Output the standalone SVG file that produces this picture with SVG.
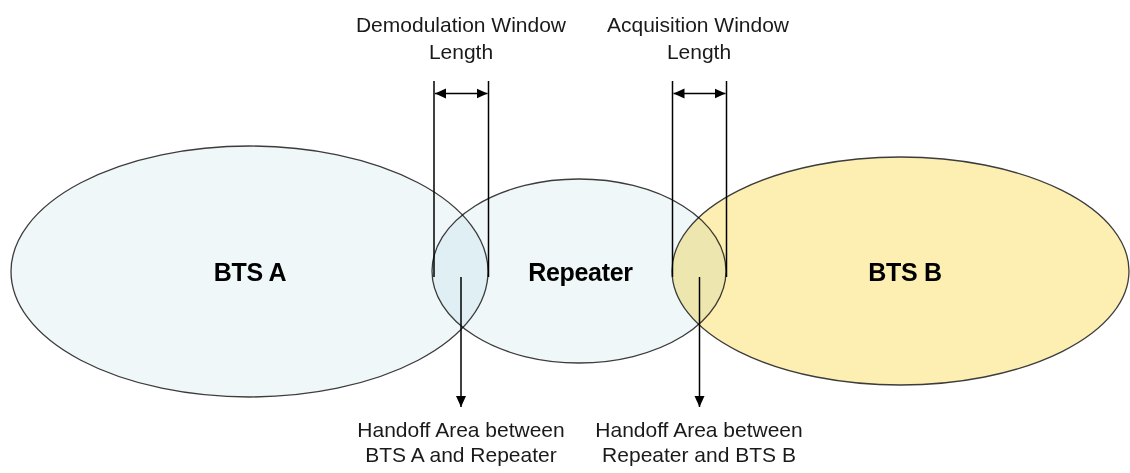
<svg xmlns="http://www.w3.org/2000/svg" width="1130" height="473" viewBox="0 0 1130 473">
  <style>
    .cell { stroke: #3c3c3c; stroke-width: 1.3; mix-blend-mode: multiply; }
    .name { font-family: "Liberation Sans", Arial, sans-serif; font-weight: bold; font-size: 25px; fill: #000; text-anchor: middle; letter-spacing: -0.3px; }
    .note { font-family: "Liberation Sans", Arial, sans-serif; font-size: 21px; fill: #1a1a1a; text-anchor: middle; }
    .line { stroke: #000; stroke-width: 1.5; fill: none; }
  </style>
  <defs>
    <marker id="tip" viewBox="0 0 11 11" refX="11" refY="5.5" markerWidth="11" markerHeight="11" markerUnits="userSpaceOnUse" orient="auto-start-reverse">
      <path d="M0,0.5 L11,5.5 L0,10.5 Z" fill="#000"/>
    </marker>
  </defs>
  <rect width="1130" height="473" fill="#fff"/>

  <g id="bts-a">
    <ellipse class="cell" cx="249.5" cy="271.5" rx="238.5" ry="125.5" fill="#eff7f9"/>
    <text class="name" x="250" y="281">BTS A</text>
  </g>

  <g id="repeater">
    <ellipse class="cell" cx="579" cy="271" rx="147" ry="92" fill="#eff7f9"/>
    <text class="name" x="580.5" y="281">Repeater</text>
  </g>

  <g id="bts-b">
    <ellipse class="cell" cx="900.5" cy="271" rx="228.5" ry="114" fill="#fdeeb2"/>
    <text class="name" x="905" y="281">BTS B</text>
  </g>

  <g id="connectors">
    <!-- demodulation window bracket -->
    <line class="line" x1="434" y1="81" x2="434" y2="277"/>
    <line class="line" x1="488.5" y1="81" x2="488.5" y2="277"/>
    <line class="line" x1="435" y1="93.5" x2="487.5" y2="93.5" marker-start="url(#tip)" marker-end="url(#tip)"/>
    <!-- acquisition window bracket -->
    <line class="line" x1="672.5" y1="81" x2="672.5" y2="277"/>
    <line class="line" x1="726.5" y1="81" x2="726.5" y2="277"/>
    <line class="line" x1="673.5" y1="93.5" x2="725.5" y2="93.5" marker-start="url(#tip)" marker-end="url(#tip)"/>
    <!-- handoff area pointers -->
    <line class="line" x1="461" y1="277" x2="461" y2="407" marker-end="url(#tip)"/>
    <line class="line" x1="699.5" y1="277" x2="699.5" y2="407" marker-end="url(#tip)"/>
  </g>

  <g id="labels">
    <text class="note" x="461" y="32">Demodulation Window</text>
    <text class="note" x="461" y="59">Length</text>
    <text class="note" x="698" y="32">Acquisition Window</text>
    <text class="note" x="699" y="59">Length</text>
    <text class="note" x="461" y="437">Handoff Area between</text>
    <text class="note" x="461" y="462">BTS A and Repeater</text>
    <text class="note" x="699" y="437">Handoff Area between</text>
    <text class="note" x="699" y="462">Repeater and BTS B</text>
  </g>
</svg>
